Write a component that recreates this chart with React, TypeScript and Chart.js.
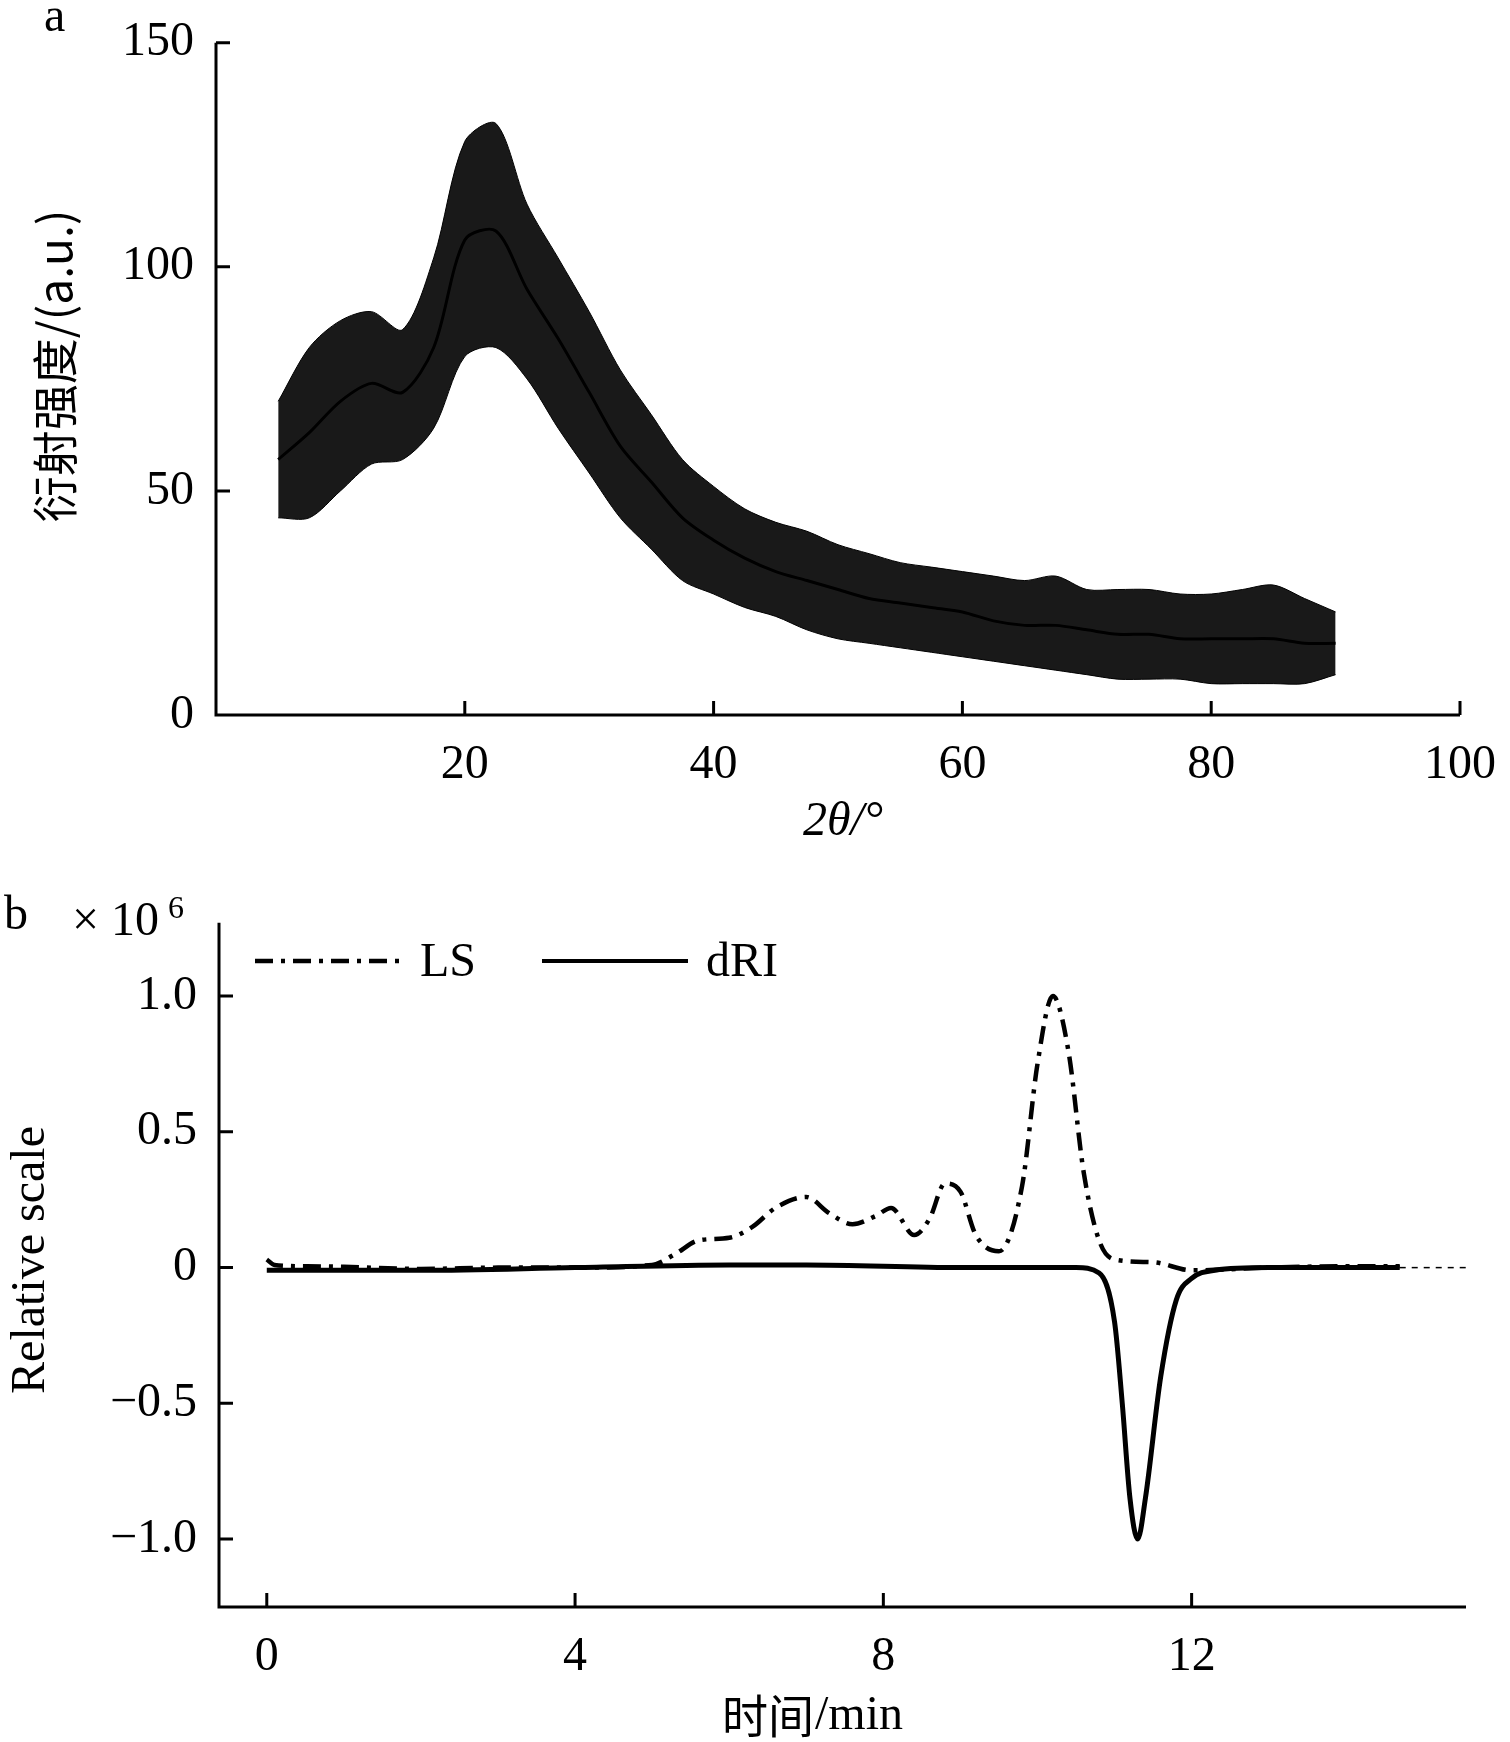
import React, { useEffect, useRef } from "react";
import { Chart, registerables } from "chart.js";
Chart.register(...registerables);

const xrdX = [5,7.5,10,12.5,15,17.5,20,22.5,25,27.5,30,32.5,35,37.5,40,42.5,45,47.5,50,52.5,55,57.5,60,62.5,65,67.5,70,72.5,75,77.5,80,82.5,85,87.5,90];
const xrdUpper = [70,82,88,90,86,102,128,132,114,102,90,77,67,57,51,46,43,41,38,36,34,33,32,31,30,31,28,28,28,27,27,28,29,26,23];
const xrdLower = [44,44,50,56,57,64,80,82,75,64,54,44,37,30,27,24,22,19,17,16,15,14,13,12,11,10,9,8,8,8,7,7,7,7,9];
const xrdMid = [57,63,70,74,72,82,106,108,95,84,72,60,52,44,39,35,32,30,28,26,25,24,23,21,20,20,19,18,18,17,17,17,17,16,16];
const lsX = [0,0.1,0.5,1,2,3,4,5,5.3,5.6,6,6.3,6.6,7,7.3,7.6,7.9,8.1,8.4,8.6,8.8,9.0,9.2,9.5,9.8,10.0,10.2,10.4,10.6,10.8,11.0,11.5,12,13,14,14.7];
const lsY = [0.03,0.01,0.005,0.003,-0.005,0,0,0.01,0.05,0.1,0.11,0.15,0.22,0.26,0.2,0.16,0.19,0.22,0.12,0.18,0.31,0.28,0.12,0.06,0.3,0.75,1.0,0.8,0.35,0.1,0.03,0.02,-0.01,0,0.005,0.005];
const driX = [0,2,4,6,7,9,10.5,10.8,11.0,11.1,11.2,11.3,11.4,11.6,11.8,12,12.3,13,14.7];
const driY = [-0.01,-0.01,0,0.01,0.01,0,0,-0.02,-0.2,-0.5,-0.85,-1.0,-0.85,-0.4,-0.12,-0.04,-0.01,0,0];
const xrdXTicks = [20,40,60,80,100];
const xrdYTicks = [0,50,100,150];
const gpcXTicks = [0,4,8,12];
const gpcYTicks = [-1.0,-0.5,0,0.5,1.0];

const SERIF = "'Liberation Serif', 'DejaVu Serif', serif";
const CJK = "'Noto Sans CJK SC', sans-serif";
const FS = 48;

function pts(xs: number[], ys: number[]) { return xs.map((x, i) => ({ x, y: ys[i] })); }
function fmt(v: number) { return v === 0 ? "0" : (v < 0 ? "\u2212" : "") + Math.abs(v).toFixed(1); }

function tickPlugin(xt: number[], yt: number[], extra: (c: any) => void) {
  return {
    id: "custom",
    afterDraw(chart: any) {
      const c = chart.ctx, a = chart.chartArea, sx = chart.scales.x, sy = chart.scales.y;
      c.save();
      c.strokeStyle = "#000"; c.lineWidth = 3;
      c.beginPath();
      c.moveTo(a.left, a.top); c.lineTo(a.left, a.bottom); c.lineTo(a.right, a.bottom);
      xt.forEach(v => { const p = sx.getPixelForValue(v); c.moveTo(p, a.bottom); c.lineTo(p, a.bottom - 14); });
      yt.forEach(v => { const p = sy.getPixelForValue(v); c.moveTo(a.left, p); c.lineTo(a.left + 14, p); });
      c.stroke();
      extra(c);
      c.restore();
    },
  };
}

function useChart(ref: any, cfg: () => any) {
  useEffect(() => {
    const ch = new Chart(ref.current, cfg());
    return () => ch.destroy();
  }, []);
}

export default function App() {
  const ra = useRef<HTMLCanvasElement>(null);
  const rb = useRef<HTMLCanvasElement>(null);

  useChart(ra, () => ({
    type: "line",
    data: {
      datasets: [
        { data: pts(xrdX, xrdUpper), borderColor: "#000", borderWidth: 1, pointRadius: 0, fill: "+1", backgroundColor: "rgba(0,0,0,0.9)", tension: 0.3 },
        { data: pts(xrdX, xrdLower), borderColor: "#000", borderWidth: 1, pointRadius: 0, fill: false, tension: 0.3 },
        { data: pts(xrdX, xrdMid), borderColor: "#000", borderWidth: 3, pointRadius: 0, fill: false, tension: 0.3 },
      ],
    },
    options: {
      animation: false, responsive: false,
      layout: { padding: { top: 0, right: 44, left: 0, bottom: 0 } },
      plugins: { legend: { display: false }, tooltip: { enabled: false } },
      scales: {
        x: {
          type: "linear", min: 0, max: 100,
          afterBuildTicks: (s: any) => { s.ticks = xrdXTicks.map(v => ({ value: v })); },
          afterFit: (s: any) => { s.height = 165; },
          grid: { display: false }, border: { display: false },
          ticks: { color: "#000", font: { family: SERIF, size: FS }, padding: 14, maxRotation: 0 },
        },
        y: {
          min: 0, max: 150,
          afterBuildTicks: (s: any) => { s.ticks = xrdYTicks.map(v => ({ value: v })); },
          afterFit: (s: any) => { s.width = 216; },
          grid: { display: false }, border: { display: false },
          ticks: { color: "#000", font: { family: SERIF, size: FS }, padding: 14 },
        },
      },
    },
    plugins: [tickPlugin(xrdXTicks, xrdYTicks, (c: any) => {
      c.fillStyle = "#000";
      c.font = `${FS}px ${SERIF}`;
      c.textAlign = "left"; c.textBaseline = "middle";
      c.fillText("a", 44, 18);
      c.textAlign = "center";
      c.font = `italic ${FS}px ${SERIF}`;
      c.fillText("2\u03b8/\u00b0", 843, 822);
      c.save();
      c.translate(55, 366); c.rotate(-Math.PI / 2);
      c.font = `${FS - 2}px ${CJK}`;
      c.fillText("衍射强度/(a.u.)", 0, 0);
      c.restore();
    })],
  }));

  useChart(rb, () => ({
    type: "line",
    data: {
      datasets: [
        { data: pts(lsX, lsY), borderColor: "#000", borderWidth: 4.5, borderDash: [18, 8, 4, 8], pointRadius: 0, fill: false, cubicInterpolationMode: "monotone" },
        { data: [{ x: 14.7, y: 0 }, { x: 15.56, y: 0 }], borderColor: "#000", borderWidth: 1.5, borderDash: [6, 6], pointRadius: 0, fill: false },
        { data: pts(driX, driY), borderColor: "#000", borderWidth: 5, pointRadius: 0, fill: false, cubicInterpolationMode: "monotone" },
      ],
    },
    options: {
      animation: false, responsive: false,
      layout: { padding: { top: 22, right: 44, left: 0, bottom: 0 } },
      plugins: { legend: { display: false }, tooltip: { enabled: false } },
      scales: {
        x: {
          type: "linear", min: -0.62, max: 15.56,
          afterBuildTicks: (s: any) => { s.ticks = gpcXTicks.map(v => ({ value: v })); },
          afterFit: (s: any) => { s.height = 135; },
          grid: { display: false }, border: { display: false },
          ticks: { color: "#000", font: { family: SERIF, size: FS }, padding: 14, maxRotation: 0 },
        },
        y: {
          min: -1.25, max: 1.27,
          afterBuildTicks: (s: any) => { s.ticks = gpcYTicks.map(v => ({ value: v })); },
          afterFit: (s: any) => { s.width = 219; },
          grid: { display: false }, border: { display: false },
          ticks: { color: "#000", font: { family: SERIF, size: FS }, padding: 14, callback: (v: any) => fmt(Number(v)) },
        },
      },
    },
    plugins: [tickPlugin(gpcXTicks, gpcYTicks, (c: any) => {
      c.fillStyle = "#000"; c.strokeStyle = "#000";
      c.font = `${FS}px ${SERIF}`;
      c.textBaseline = "middle"; c.textAlign = "left";
      c.fillText("b", 4, 36);
      c.fillText("\u00d7 10", 72, 42);
      c.font = `${FS - 16}px ${SERIF}`;
      c.fillText("6", 168, 30);
      c.font = `${FS}px ${SERIF}`;
      c.lineWidth = 4.5; c.setLineDash([18, 8, 4, 8]);
      c.beginPath(); c.moveTo(255, 81); c.lineTo(400, 81); c.stroke();
      c.setLineDash([]); c.lineWidth = 4;
      c.beginPath(); c.moveTo(542, 81); c.lineTo(688, 81); c.stroke();
      c.fillText("LS", 420, 83);
      c.fillText("dRI", 706, 83);
      c.textAlign = "center";
      c.font = `${FS - 2}px ${CJK}`;
      c.fillText("时间", 768, 836);
      c.font = `${FS}px ${SERIF}`;
      c.textAlign = "left";
      c.fillText("/min", 815, 836);
      c.textAlign = "center";
      c.save();
      c.translate(31, 380); c.rotate(-Math.PI / 2);
      c.fillText("Relative scale", 0, 0);
      c.restore();
    })],
  }));

  return (
    <div style={{ position: "absolute", left: 0, top: 0, width: 1510, height: 1742, background: "#fff" }}>
      <canvas ref={ra} width={1510} height={880} style={{ position: "absolute", left: 0, top: 0 }} />
      <canvas ref={rb} width={1510} height={862} style={{ position: "absolute", left: 0, top: 880 }} />
    </div>
  );
}
